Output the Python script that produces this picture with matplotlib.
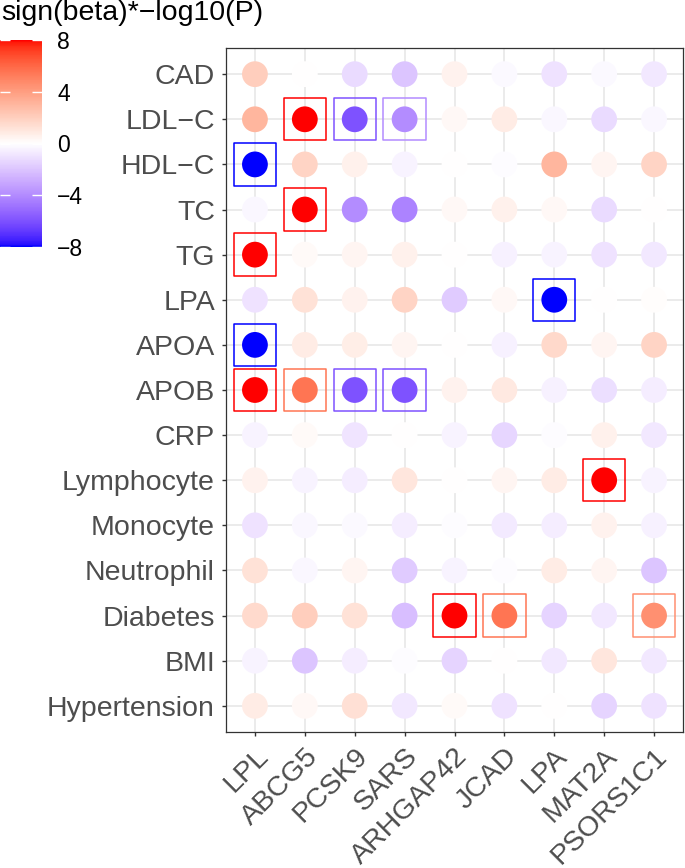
import numpy as np
import matplotlib
matplotlib.use("Agg")
import matplotlib.pyplot as plt
from matplotlib.colors import ListedColormap, Normalize
import matplotlib.transforms as mtransforms

plt.rcParams['font.family'] = ['Liberation Sans', 'DejaVu Sans']

# traits (rows, top to bottom) and genes (columns)
traits = ["CAD", "LDL\u2212C", "HDL\u2212C", "TC", "TG", "LPA", "APOA", "APOB", "CRP",
          "Lymphocyte", "Monocyte", "Neutrophil", "Diabetes", "BMI", "Hypertension"]
genes = ["LPL", "ABCG5", "PCSK9", "SARS", "ARHGAP42", "JCAD", "LPA", "MAT2A", "PSORS1C1"]

# sign(beta)*-log10(P), one row per trait
vals = [
    [2.0, 0.0, -1.2, -2.0, 0.5, -0.2, -1.0, -0.2, -0.8],   # CAD
    [3.0, 8.0, -6.0, -4.0, 0.3, 0.8, -0.3, -1.2, -0.3],    # LDL-C
    [-8.0, 1.8, 0.6, -0.4, 0.0, -0.1, 3.0, 0.4, 1.8],      # HDL-C
    [-0.3, 8.0, -4.0, -4.3, 0.3, 0.6, 0.3, -1.2, 0.0],     # TC
    [8.0, 0.2, 0.4, 0.6, 0.0, -0.5, -0.4, -1.0, -0.8],     # TG
    [-1.0, 1.2, 0.5, 1.8, -1.8, 0.3, -8.0, 0.0, 0.1],      # LPA
    [-8.0, 0.8, 0.7, 0.4, 0.0, -0.5, 1.6, 0.4, 1.8],       # APOA
    [8.0, 5.5, -6.0, -6.0, 0.5, 0.9, -0.5, -1.1, -0.6],    # APOB
    [-0.4, 0.2, -0.9, 0.0, -0.4, -1.4, -0.1, 0.6, -0.8],   # CRP
    [0.5, -0.4, -0.6, 1.0, 0.0, 0.4, 0.8, 8.0, -0.4],      # Lymphocyte
    [-1.0, -0.3, -0.2, -0.6, -0.1, -0.7, -0.6, 0.5, -0.5], # Monocyte
    [1.2, -0.3, 0.4, -1.8, -0.4, -0.1, 0.8, 0.4, -2.0],    # Neutrophil
    [1.5, 2.0, 1.2, -2.2, 8.0, 5.5, -1.5, -0.8, 4.5],      # Diabetes
    [-0.4, -2.0, -0.6, -0.1, -1.5, 0.0, -0.8, 1.0, -0.8],  # BMI
    [0.8, 0.3, 1.3, -0.8, 0.2, -1.0, 0.0, -1.5, -1.0],     # Hypertension
]

# significant cells get a box: (trait, gene)
sig = [("LDL\u2212C", "ABCG5"), ("LDL\u2212C", "PCSK9"), ("LDL\u2212C", "SARS"),
       ("HDL\u2212C", "LPL"), ("TC", "ABCG5"), ("TG", "LPL"), ("LPA", "LPA"),
       ("APOA", "LPL"), ("APOB", "LPL"), ("APOB", "ABCG5"), ("APOB", "PCSK9"),
       ("APOB", "SARS"), ("Lymphocyte", "MAT2A"), ("Diabetes", "ARHGAP42"),
       ("Diabetes", "JCAD"), ("Diabetes", "PSORS1C1")]


def lab2rgb(L, a, b):
    fy = (L + 16) / 116
    fx = fy + a / 500
    fz = fy - b / 200
    finv = lambda t: np.where(t > 6 / 29, t ** 3, 3 * (6 / 29) ** 2 * (t - 4 / 29))
    X = 0.95047 * finv(fx)
    Y = finv(fy)
    Z = 1.08883 * finv(fz)
    r = 3.2406 * X - 1.5372 * Y - 0.4986 * Z
    g = -0.9689 * X + 1.8758 * Y + 0.0415 * Z
    bb = 0.0557 * X - 0.2040 * Y + 1.0570 * Z
    rgb = np.clip(np.stack([r, g, bb], -1), 0, None)
    rgb = np.where(rgb <= 0.0031308, 12.92 * rgb, 1.055 * rgb ** (1 / 2.4) - 0.055)
    return np.clip(rgb, 0, 1)


# gradient2 style blue-white-red, interpolated in Lab
t = np.linspace(-1, 1, 256)
blue = np.array([32.30, 79.19, -107.86])
red = np.array([53.24, 80.09, 67.20])
white = np.array([100.0, 0.0, 0.0])
lab = np.where(t[:, None] < 0, white + (-t[:, None]) * (blue - white),
               white + t[:, None] * (red - white))
cmap = ListedColormap(lab2rgb(lab[:, 0], lab[:, 1], lab[:, 2]))
norm = Normalize(-8, 8, clip=True)

v = np.array(vals)
yy, xx = np.meshgrid(np.arange(len(traits)), np.arange(len(genes)), indexing="ij")

fig = plt.figure(figsize=(6.85, 8.68), dpi=100)
ax = fig.add_axes([226 / 685, 136 / 868, 457 / 685, 684 / 868])

ax.scatter(xx.ravel(), yy.ravel(), c=v.ravel(), cmap=cmap, norm=norm, s=345,
           linewidths=0, zorder=3)

sx = [genes.index(g) for tr, g in sig]
sy = [traits.index(tr) for tr, g in sig]
sc = [v[traits.index(tr), genes.index(g)] for tr, g in sig]
ax.scatter(sx, sy, marker="s", s=930, facecolors="none",
           edgecolors=cmap(norm(sc)), linewidths=1.1, zorder=3)

ax.set_xlim(-0.58, len(genes) - 0.42)
ax.set_ylim(len(traits) - 0.42, -0.58)
ax.set_xticks(range(len(genes)))
ax.set_xticklabels(genes, rotation=45, ha="right", va="top", rotation_mode="anchor")
ax.set_yticks(range(len(traits)))
ax.set_yticklabels(traits)
off = mtransforms.ScaledTranslation(9 / 100, -3 / 100, fig.dpi_scale_trans)
for lab_ in ax.get_xticklabels():
    lab_.set_transform(lab_.get_transform() + off)
ax.tick_params(labelsize=20.5, labelcolor="#4D4D4D", color="#333333", length=3,
               width=1.0, pad=5)
ax.grid(True, color="#EBEBEB", linewidth=1.4)
ax.set_axisbelow(True)
for sp in ax.spines.values():
    sp.set_color("#333333")
    sp.set_linewidth(0.9)

# colour bar
cax = fig.add_axes([0.0, (868 - 247) / 868, 42 / 685, 207 / 868])
sm = plt.cm.ScalarMappable(norm=norm, cmap=cmap)
cb = fig.colorbar(sm, cax=cax, ticks=[-8, -4, 0, 4, 8])
cb.outline.set_visible(False)
cax.tick_params(direction="in", color="white", length=7, width=1.0, labelsize=16.5,
                labelcolor="black", pad=11, left=True, right=True)
fig.text(1 / 685, 1 - 13 / 868, "sign(beta)*\u2212log10(P)", fontsize=20.5, va="center",
         ha="left")

fig.savefig("out.png", dpi=100)
